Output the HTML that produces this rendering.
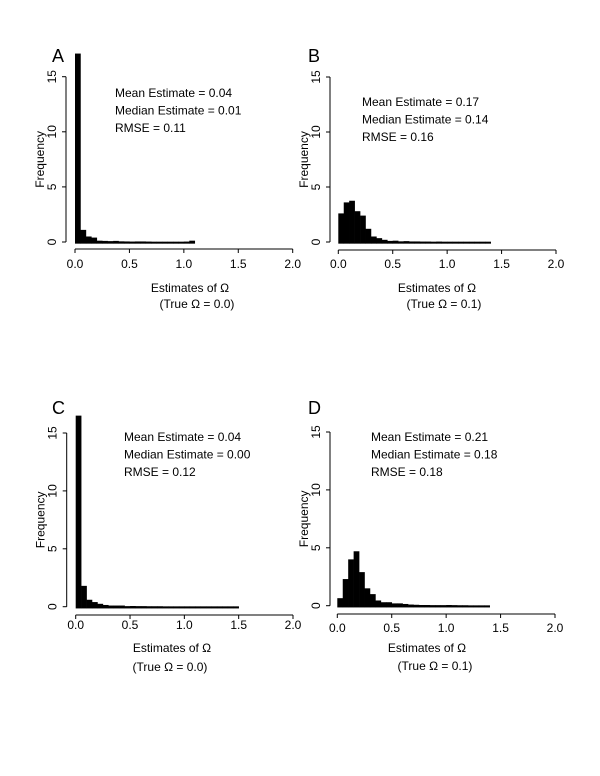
<!DOCTYPE html>
<html><head><meta charset="utf-8"><style>
body{margin:0;background:#fff}
svg{display:block;font-family:"Liberation Sans",Arial,sans-serif}
</style></head><body>
<svg id="c" width="600" height="776" viewBox="0 0 600 776"></svg>
<script>
const binWidth = 0.05;
const xTicks = [0, 0.5, 1.0, 1.5, 2.0];
const xTickLabels = ["0.0","0.5","1.0","1.5","2.0"];
const yTicks = [0, 5, 10, 15];
const countsA = [17.1,1.1,0.5,0.4,0.12,0.1,0.08,0.1,0.06,0.05,0.04,0.05,0.05,0.04,0.03,0.03,0.03,0.03,0.03,0.03,0.04,0.12];
const countsB = [2.6,3.6,3.75,2.8,2.4,1.2,0.5,0.35,0.2,0.1,0.12,0.06,0.08,0.05,0.05,0.04,0.04,0.03,0.04,0.03,0.03,0.03,0.03,0.03,0.03,0.03,0.03,0.03];
const countsC = [16.5,1.8,0.6,0.4,0.25,0.15,0.1,0.1,0.1,0.05,0.06,0.05,0.05,0.04,0.04,0.04,0.03,0.03,0.03,0.03,0.03,0.03,0.03,0.03,0.03,0.03,0.03,0.03,0.03,0.03];
const countsD = [0.65,2.3,4.0,4.7,2.9,1.5,1.0,0.45,0.3,0.3,0.2,0.2,0.15,0.1,0.08,0.06,0.06,0.05,0.05,0.05,0.06,0.05,0.04,0.04,0.03,0.03,0.03,0.03];
const statsA = ["Mean Estimate = 0.04","Median Estimate = 0.01","RMSE = 0.11"];
const statsB = ["Mean Estimate = 0.17","Median Estimate = 0.14","RMSE = 0.16"];
const statsC = ["Mean Estimate = 0.04","Median Estimate = 0.00","RMSE = 0.12"];
const statsD = ["Mean Estimate = 0.21","Median Estimate = 0.18","RMSE = 0.18"];
const trueA = "0.0", trueB = "0.1", trueC = "0.0", trueD = "0.1";

const svg = document.getElementById('c');
const NS = 'http://www.w3.org/2000/svg';
function mk(tag, attrs, parent, text){
  const e = document.createElementNS(NS, tag);
  for (const k in attrs) e.setAttribute(k, attrs[k]);
  if (text !== undefined) e.textContent = text;
  parent.appendChild(e);
  return e;
}
function panel(p){
  const g = mk('g', {}, svg);
  
  
  const x = v => p.x0 + (p.x2 - p.x0) * v / 2;
  const y = v => p.y0 - (p.y0 - p.y15) * v / 15;
  const bars = mk('g', {fill:'#000'}, g);
  
  
  p.counts.forEach((c, i) => {
    const top = y(c), bot = y(-0.15);
    const r = mk('rect', {x: x(i*binWidth), y: top, width: x((i+1)*binWidth) - x(i*binWidth) + 0.3, height: bot - top}, bars);
    
    
  });
  const ya = mk('g', {stroke:'#000', 'stroke-width':1}, g);
  
  
  mk('line', {x1:p.yax, x2:p.yax, y1:y(0), y2:y(15)}, ya);
  yTicks.forEach(t => {
    mk('line', {x1:p.yax-4, x2:p.yax, y1:y(t), y2:y(t)}, ya);
    const tl = mk('text', {x:0, y:0, transform:`translate(${p.yax-10},${y(t)}) rotate(-90)`, 'text-anchor':'middle', 'font-size':12, stroke:'none', fill:'#000'}, g, String(t));
    
    
  });
  const yt = mk('text', {transform:`translate(${p.yax-22},${(y(0)+y(15))/2}) rotate(-90)`, 'text-anchor':'middle', 'font-size':12, fill:'#000'}, g, 'Frequency');
  
  
  const xa = mk('g', {stroke:'#000', 'stroke-width':1}, g);
  
  
  mk('line', {x1:x(0), x2:x(2), y1:p.xay, y2:p.xay}, xa);
  xTicks.forEach((t, i) => {
    mk('line', {x1:x(t), x2:x(t), y1:p.xay, y2:p.xay+4}, xa);
    const tl = mk('text', {x:x(t), y:p.xlb, 'text-anchor':'middle', 'font-size':12, fill:'#000'}, g, xTickLabels[i]);
    
    
  });
  const xt = mk('text', {x:p.xt1x, y:p.xt1y, 'text-anchor':'middle', 'font-size':12, fill:'#000'}, g, 'Estimates of Ω');
  
  
  const xs = mk('text', {x:p.xt2x, y:p.xt2y, 'text-anchor':'middle', 'font-size':12, fill:'#000'}, g, '(True Ω = ' + p.tru + ')');
  
  
  const L = mk('text', {x:p.lx, y:p.ly, 'font-size':18, fill:'#000'}, g, p.letter);
  
  
  p.stats.forEach((s, i) => {
    const st = mk('text', {x:p.sx, y:p.sy + i*17.5, 'font-size':12, fill:'#000'}, g, s);
    
    
  });
}
panel({letter:'A', counts:countsA, stats:statsA, tru:trueA, x0:75, x2:292.7, y0:242, y15:76.7, yax:66, xay:249, xlb:268,
  xt1x:190, xt1y:292, xt2x:197, xt2y:308, lx:52, ly:62, sx:115, sy:97});
panel({letter:'B', counts:countsB, stats:statsB, tru:trueB, x0:338.3, x2:556, y0:242, y15:77, yax:330, xay:250, xlb:268,
  xt1x:437, xt1y:292, xt2x:444, xt2y:308, lx:308, ly:62, sx:362, sy:106});
panel({letter:'C', counts:countsC, stats:statsC, tru:trueC, x0:75.7, x2:293, y0:606.7, y15:433, yax:66.7, xay:615, xlb:629,
  xt1x:172, xt1y:652, xt2x:170, xt2y:671, lx:52, ly:414, sx:124, sy:441});
panel({letter:'D', counts:countsD, stats:statsD, tru:trueD, x0:337.3, x2:555, y0:605.7, y15:432, yax:330, xay:614, xlb:632,
  xt1x:427, xt1y:652, xt2x:435, xt2y:670, lx:308, ly:414, sx:371, sy:441});
</script>
</body></html>
